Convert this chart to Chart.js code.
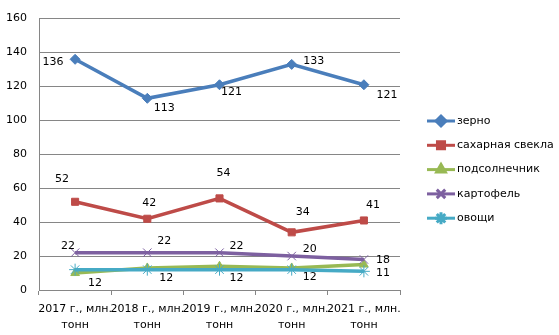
<!DOCTYPE html>
<html>
<head>
<meta charset="utf-8">
<script src="https://cdn.jsdelivr.net/npm/chart.js@4"></script>
<style>
  html, body { margin: 0; padding: 0; background: #fff; }
  #wrap { width: 559px; height: 335px; }
</style>
</head>
<body>
<div id="wrap"><canvas id="chart" width="559" height="335"></canvas></div>
<script>
const years = [
  ['2017 г., млн.', 'тонн'],
  ['2018 г., млн.', 'тонн'],
  ['2019 г., млн.', 'тонн'],
  ['2020 г., млн.', 'тонн'],
  ['2021 г., млн.', 'тонн']
];
const seriesNames = ['зерно', 'сахарная свекла', 'подсолнечник', 'картофель', 'овощи'];
const grain = [136, 113, 121, 133, 121];
const sugarBeet = [52, 42, 54, 34, 41];
const sunflower = [10, 13, 14, 13, 15];
const potato = [22, 22, 22, 20, 18];
const vegetables = [12, 12, 12, 12, 11];

// label offsets from the point, px (null = no labels)
const labelOffsets = [
  [[-22, 3], [17, 10], [12, 7], [22, -3], [23, 10]],
  [[-13, -23], [2, -16], [4, -25], [11, -20], [9, -15]],
  null,
  [[-7, -7], [17, -12], [17, -7], [18, -7], [19, 1]],
  [[20, 13], [19, 8], [17, 8], [18, 7], [19, 2]]
];

const FONT = 'DejaVu Sans, Verdana, sans-serif';
Chart.defaults.font.family = FONT;
Chart.defaults.font.size = 11;
Chart.defaults.color = '#000';

const gridColor = '#868686';

const dataLabels = {
  id: 'dataLabels',
  afterDatasetsDraw(chart) {
    const ctx = chart.ctx;
    ctx.save();
    ctx.font = '11px ' + FONT;
    ctx.fillStyle = '#000';
    ctx.textAlign = 'center';
    ctx.textBaseline = 'middle';
    chart.data.datasets.forEach((ds, i) => {
      const offs = labelOffsets[i];
      if (!offs) return;
      chart.getDatasetMeta(i).data.forEach((pt, j) => {
        ctx.fillText(String(ds.data[j]), pt.x + offs[j][0], pt.y + offs[j][1]);
      });
    });
    ctx.restore();
  }
};

const sideLegend = {
  id: 'sideLegend',
  afterDraw(chart) {
    const ctx = chart.ctx;
    const x0 = 427, x1 = 455, tx = 457;
    ctx.save();
    ctx.font = '11px ' + FONT;
    ctx.textBaseline = 'middle';
    chart.data.datasets.forEach((ds, i) => {
      const y = 121 + i * 24.3;
      ctx.strokeStyle = ds.borderColor;
      ctx.lineWidth = 3;
      ctx.beginPath();
      ctx.moveTo(x0, y);
      ctx.lineTo(x1, y);
      ctx.stroke();
      ctx.fillStyle = ds.pointBackgroundColor;
      ctx.strokeStyle = ds.pointBorderColor;
      Chart.helpers.drawPoint(ctx, {
        pointStyle: ds.pointStyle,
        radius: ds.pointRadius,
        borderWidth: ds.pointBorderWidth
      }, (x0 + x1) / 2, y);
      ctx.fillStyle = '#000';
      ctx.fillText(ds.label, tx, y);
    });
    ctx.restore();
  }
};

function series(label, data, color, style, radius, order) {
  return {
    label: label,
    data: data,
    borderColor: color,
    backgroundColor: color,
    pointBackgroundColor: color,
    pointBorderColor: color,
    borderWidth: 3.5,
    pointStyle: style,
    pointRadius: radius,
    pointBorderWidth: 1,
    tension: 0,
    order: order
  };
}

new Chart(document.getElementById('chart'), {
  type: 'line',
  data: {
    labels: years,
    datasets: [
      series(seriesNames[0], grain, '#4A7EBB', 'rectRot', 5, 4),
      series(seriesNames[1], sugarBeet, '#BE4B48', 'rect', 5, 3),
      series(seriesNames[2], sunflower, '#98B954', 'triangle', 5, 2),
      series(seriesNames[3], potato, '#7D60A0', 'crossRot', 6, 1),
      series(seriesNames[4], vegetables, '#46AAC5', 'star', 6, 0)
    ]
  },
  options: {
    responsive: false,
    animation: false,
    layout: { padding: { top: 12, right: 159, left: 0, bottom: 0 } },
    plugins: {
      legend: { display: false },
      tooltip: { enabled: false }
    },
    scales: {
      x: {
        offset: true,
        grid: {
          offset: true,
          drawOnChartArea: false,
          drawTicks: true,
          tickLength: 5,
          color: gridColor
        },
        border: { color: gridColor },
        ticks: { padding: 6, maxRotation: 0, autoSkip: false, font: { size: 11, lineHeight: 1.45 } },
        afterFit(scale) { scale.height = 45; }
      },
      y: {
        min: 0,
        max: 160,
        ticks: { stepSize: 20, padding: 12 },
        grid: { color: gridColor, drawTicks: false },
        border: { color: gridColor },
        afterFit(scale) { scale.width = 39; }
      }
    }
  },
  plugins: [dataLabels, sideLegend]
});
</script>
</body>
</html>
